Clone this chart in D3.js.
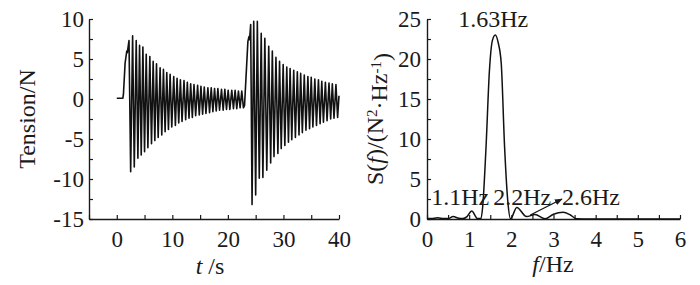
<!DOCTYPE html>
<html>
<head>
<meta charset="utf-8">
<script src="https://cdn.jsdelivr.net/npm/d3@7"></script>
<style>
  body { margin: 0; background: #fff; }
  text { font-family: "Liberation Serif", "Times New Roman", serif; fill: #1a1a1a; }
</style>
</head>
<body>
<div id="chart-area"></div>
<script>
// tension record, alternating peaks and troughs
var tensionT = [0, 0.6, 1.1, 1.2, 1.5, 1.8, 1.9, 2.0,
  2.2, 2.5, 2.85, 3.15, 3.5, 3.8, 4.1, 4.4, 4.7, 5.0, 5.3, 5.6, 5.95, 6.25, 6.55, 6.85,
  7.15, 7.45, 7.8, 8.1, 8.4, 8.7, 9.0, 9.3, 9.6, 9.9, 10.25, 10.55, 10.85, 11.15, 11.45, 11.75,
  12.1, 12.4, 12.7, 13.0, 13.3, 13.6, 13.9, 14.2, 14.55, 14.85, 15.15, 15.45, 15.75, 16.05,
  16.4, 16.7, 17.0, 17.3, 17.6, 17.9, 18.2, 18.5, 18.85, 19.15, 19.45, 19.75, 20.05, 20.35,
  20.7, 21.0, 21.3, 21.6, 21.9, 22.2, 22.5, 22.8,
  23.0, 23.6, 23.8, 23.9, 24.1, 24.35, 24.65, 25.0, 25.3, 25.65, 26.0, 26.3, 26.65, 27.0,
  27.35, 27.7, 28.0, 28.3, 28.65, 29.0, 29.3, 29.6, 29.95, 30.25, 30.6, 30.9, 31.2, 31.5,
  31.85, 32.15, 32.5, 32.8, 33.1, 33.4, 33.75, 34.05, 34.4, 34.7, 35.0, 35.3, 35.65, 35.95,
  36.3, 36.6, 36.9, 37.2, 37.55, 37.85, 38.2, 38.5, 38.8, 39.1, 39.45, 39.75, 40.0];
var tensionV = [0.1, 0.1, 0.1, 0.6, 4.5, 6.0, 5.8, 6.3,
  7.3, -9.1, 7.9, -8.5, 7.3, -7.4, 6.7, -7.0, 6.5, -6.6, 5.6, -6.1, 5.3, -5.6, 4.7, -5.2,
  4.4, -4.8, 3.9, -4.5, 3.7, -4.1, 3.3, -3.8, 3.1, -3.5, 2.8, -3.3, 2.6, -3.0, 2.4, -2.8,
  2.3, -2.6, 2.1, -2.4, 1.9, -2.3, 1.8, -2.1, 1.7, -2.0, 1.6, -1.9, 1.5, -1.8,
  1.4, -1.7, 1.4, -1.6, 1.3, -1.5, 1.3, -1.4, 1.2, -1.4, 1.2, -1.3, 1.1, -1.3,
  1.1, -1.2, 1.1, -1.2, 1.0, -1.1, 1.0, -1.1,
  -0.8, 7.2, 7.8, 7.4, 9.3, -13.2, 9.7, -12.0, 9.7, -9.9, 8.2, -9.8, 7.6, -8.9,
  6.6, -8.0, 6.0, -7.2, 5.2, -6.8, 4.7, -6.2, 4.3, -5.8, 4.0, -5.4, 3.8, -5.1,
  3.6, -4.8, 3.4, -4.5, 3.2, -4.2, 3.0, -3.9, 2.8, -3.7, 2.7, -3.5, 2.5, -3.3,
  2.4, -3.1, 2.2, -2.9, 2.1, -2.7, 2.0, -2.5, 1.9, -2.4, 1.8, -2.3, 0.4];

// power spectrum
var freq = [0, 0.1, 0.25, 0.4, 0.5, 0.62, 0.75, 0.85, 0.95, 1.06, 1.2, 1.28, 1.32, 1.4, 1.48, 1.55,
  1.62, 1.69, 1.76, 1.84, 1.92, 1.98, 2.13, 2.36, 2.56, 2.8, 3.0, 3.23, 3.4, 3.55, 3.7, 6.0];
var psd = [0.05, 0.05, 0.15, 0.05, 0.05, 0.3, 0.1, 0.05, 0.3, 1.0, 0.05, 0.05, 1.5, 9, 18.5, 22.3,
  23, 22, 19.5, 9, 2, 0.02, 1.45, 0.3, 0.55, 0.02, 0.6, 0.83, 0.5, 0.02, 0, 0];

var peakLabels = [
  {f: 1.57, s: 24, text: "1.63Hz", anchor: "middle"},
  {f: 0.1, s: 1.75, text: "1.1Hz", anchor: "start"},
  {f: 1.57, s: 1.75, text: "2.2Hz", anchor: "start"},
  {f: 3.2, s: 1.75, text: "2.6Hz", anchor: "start"}
];

var width = 700, height = 285;
var fontSize = 23;

var svg = d3.select("#chart-area").append("svg")
  .attr("width", width)
  .attr("height", height);

svg.append("defs").append("marker")
  .attr("id", "arrow")
  .attr("viewBox", "0 0 10 10")
  .attr("refX", 9).attr("refY", 5)
  .attr("markerWidth", 6).attr("markerHeight", 6)
  .attr("orient", "auto")
  .append("path")
  .attr("d", "M0,1 L10,5 L0,9 z")
  .attr("fill", "#1a1a1a");

function styleAxis(sel) {
  sel.selectAll("path.domain").attr("stroke", "#1a1a1a").attr("stroke-width", 1.4);
  sel.selectAll(".tick line").attr("stroke", "#1a1a1a").attr("stroke-width", 1.2);
  sel.selectAll("text").style("font-size", fontSize + "px")
    .style("font-family", '"Liberation Serif", "Times New Roman", serif')
    .attr("fill", "#1a1a1a");
}

// ---- left: tension vs time
var x1 = d3.scaleLinear().domain([-5, 40]).range([89, 339]);
var y1 = d3.scaleLinear().domain([-15, 10]).range([219, 19]);

var xAxis1 = svg.append("g")
  .attr("transform", "translate(0," + y1(-15) + ")")
  .call(d3.axisBottom(x1)
    .tickValues(d3.range(-5, 41, 5))
    .tickFormat(d => (d >= 0 && d % 10 === 0) ? d : "")
    .tickSizeInner(-4).tickSizeOuter(0).tickPadding(12));
styleAxis(xAxis1);

var yAxis1 = svg.append("g")
  .attr("transform", "translate(" + x1(-5) + ",0)")
  .call(d3.axisLeft(y1)
    .tickValues(d3.range(-15, 10.1, 2.5))
    .tickFormat(d => d % 5 === 0 ? d : "")
    .tickSizeInner(-4).tickSizeOuter(0).tickPadding(5));
styleAxis(yAxis1);

var tension = tensionT.map((t, i) => [t, tensionV[i]]);
svg.append("path")
  .datum(tension)
  .attr("fill", "none")
  .attr("stroke", "#111")
  .attr("stroke-width", 1.6)
  .attr("stroke-linejoin", "round")
  .attr("d", d3.line().x(d => x1(d[0])).y(d => y1(d[1])));

svg.append("text")
  .attr("transform", "translate(35," + y1(-2.5) + ") rotate(-90)")
  .attr("text-anchor", "middle")
  .style("font-size", "24px")
  .text("Tension/N");

var tLabel = svg.append("text")
  .attr("x", 210).attr("y", 274)
  .attr("text-anchor", "middle")
  .style("font-size", "24px");
tLabel.append("tspan").style("font-style", "italic").text("t");
tLabel.append("tspan").text(" /s");

// ---- right: spectrum
var x2 = d3.scaleLinear().domain([0, 6]).range([427, 680]);
var y2 = d3.scaleLinear().domain([0, 25]).range([219, 19]);

var xAxis2 = svg.append("g")
  .attr("transform", "translate(0," + y2(0) + ")")
  .call(d3.axisBottom(x2)
    .tickValues(d3.range(0, 6.01, 0.5))
    .tickFormat(d => d % 1 === 0 ? d : "")
    .tickSizeInner(-4).tickSizeOuter(0).tickPadding(12));
styleAxis(xAxis2);

var yAxis2 = svg.append("g")
  .attr("transform", "translate(" + x2(0) + ",0)")
  .call(d3.axisLeft(y2)
    .tickValues(d3.range(0, 25.1, 2.5))
    .tickFormat(d => d % 5 === 0 ? d : "")
    .tickSizeInner(-4).tickSizeOuter(0).tickPadding(6));
styleAxis(yAxis2);

var spectrum = freq.map((f, i) => [f, psd[i]]);
svg.append("path")
  .datum(spectrum)
  .attr("fill", "none")
  .attr("stroke", "#111")
  .attr("stroke-width", 1.5)
  .attr("d", d3.line().curve(d3.curveMonotoneX).x(d => x2(d[0])).y(d => y2(d[1])));

svg.append("line")
  .attr("x1", x2(2.45)).attr("y1", y2(0.5))
  .attr("x2", x2(3.2)).attr("y2", y2(2.5))
  .attr("stroke", "#111")
  .attr("stroke-width", 1.3)
  .attr("marker-end", "url(#arrow)");

svg.selectAll(".peak-label")
  .data(peakLabels)
  .enter().append("text")
  .attr("class", "peak-label")
  .attr("x", d => x2(d.f))
  .attr("y", d => y2(d.s))
  .attr("text-anchor", d => d.anchor)
  .style("font-size", "24px")
  .text(d => d.text);

var sLabel = svg.append("text")
  .attr("transform", "translate(383," + y2(12.5) + ") rotate(-90)")
  .attr("text-anchor", "middle")
  .style("font-size", "24px");
sLabel.append("tspan").text("S(");
sLabel.append("tspan").style("font-style", "italic").text("f");
sLabel.append("tspan").text(")/(N");
sLabel.append("tspan").attr("dy", "-0.4em").style("font-size", "15px").text("2");
sLabel.append("tspan").attr("dy", "0.4em").text("·Hz");
sLabel.append("tspan").attr("dy", "-0.4em").style("font-size", "15px").text("-1");
sLabel.append("tspan").attr("dy", "0.4em").text(")");

var fLabel = svg.append("text")
  .attr("x", 553).attr("y", 272)
  .attr("text-anchor", "middle")
  .style("font-size", "24px");
fLabel.append("tspan").style("font-style", "italic").text("f");
fLabel.append("tspan").text("/Hz");
</script>
</body>
</html>
